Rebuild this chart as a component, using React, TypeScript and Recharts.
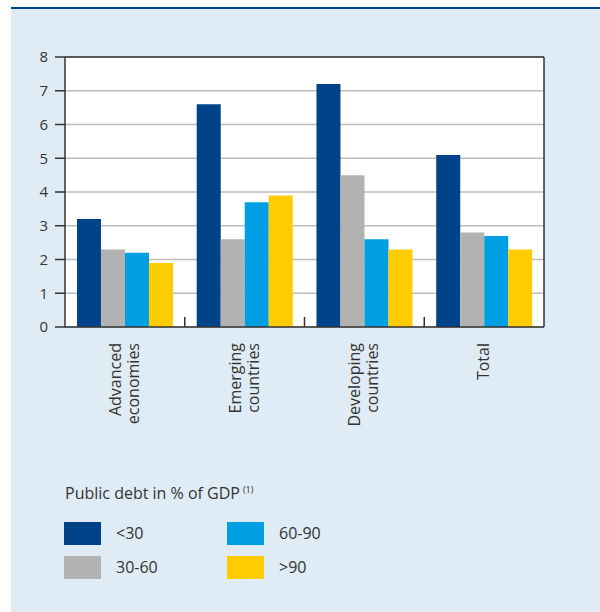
import { BarChart, Bar, XAxis, YAxis, CartesianGrid, ReferenceLine } from "recharts";

const categories = ["Advanced\neconomies", "Emerging\ncountries", "Developing\ncountries", "Total"];
const lt30 = [3.2, 6.6, 7.2, 5.1];
const d30to60 = [2.3, 2.6, 4.5, 2.8];
const d60to90 = [2.2, 3.7, 2.6, 2.7];
const gt90 = [1.9, 3.9, 2.3, 2.3];
const yTicks = [0, 1, 2, 3, 4, 5, 6, 7, 8];

const series = [
  { key: "lt30", label: "<30", color: "#004388" },
  { key: "d30to60", label: "30-60", color: "#b2b2b2" },
  { key: "d60to90", label: "60-90", color: "#009fe3" },
  { key: "gt90", label: ">90", color: "#ffcc00" },
];

const data = categories.map((name, i) => ({
  name,
  lt30: lt30[i],
  d30to60: d30to60[i],
  d60to90: d60to90[i],
  gt90: gt90[i],
}));

const FONT = '"Open Sans", "Noto Sans", sans-serif';
const TEXT = "#333";
// separator marks are ~10px tall, plot is 270px for 8 units
const SEP_H = (10 * 8) / 270;

function CatTick(props: any) {
  const { x, y, payload } = props;
  const lines = String(payload.value).split("\n");
  const first = lines.length === 1 ? 5 : -4;
  return (
    <g transform={`translate(${x},${y}) rotate(-90)`}>
      <text textAnchor="end" fill={TEXT} fontSize={16} fontFamily={FONT}>
        {lines.map((l, i) => (
          <tspan key={i} x={0} y={first + i * 18}>
            {l}
          </tspan>
        ))}
      </text>
    </g>
  );
}

export default function App() {
  const axisStroke = { stroke: "#333", strokeWidth: 1.5 };
  const tickStyle = { fill: TEXT, fontSize: 15, fontFamily: FONT };
  return (
    <div style={{ position: "relative", width: 600, height: 612, background: "#fff", fontFamily: FONT, color: TEXT }}>
      <style>{`body{margin:0}`}</style>
      <div
        style={{
          position: "absolute",
          left: 11,
          top: 7,
          right: 0,
          bottom: 0,
          background: "#dfecf5",
          borderTop: "2px solid #004388",
        }}
      />
      <div style={{ position: "absolute", left: 0, top: 0 }}>
        <BarChart
          width={600}
          height={612}
          data={data}
          margin={{ top: 57, right: 0, bottom: 185, left: 0 }}
          barGap={0}
          barCategoryGap="10%"
        >
          <CartesianGrid yAxisId="left" vertical={false} fill="#fff" fillOpacity={1} stroke="#bdbdbd" strokeWidth={1.3} />
          <XAxis
            dataKey="name"
            height={100}
            interval={0}
            axisLine={axisStroke}
            tickLine={false}
            tickSize={0}
            tickMargin={16}
            tick={<CatTick />}
          />
          <YAxis
            yAxisId="left"
            width={65}
            domain={[0, 8]}
            ticks={yTicks}
            interval={0}
            tickSize={10}
            tickMargin={7}
            axisLine={axisStroke}
            tickLine={axisStroke}
            tick={tickStyle}
          />
          <YAxis
            yAxisId="right"
            orientation="right"
            width={56}
            domain={[0, 8]}
            ticks={yTicks}
            interval={0}
            tickSize={12}
            tickMargin={6}
            axisLine={axisStroke}
            tickLine={axisStroke}
            tick={tickStyle}
          />
          {series.map((s) => (
            <Bar key={s.key} yAxisId="left" dataKey={s.key} fill={s.color} isAnimationActive={false} />
          ))}
          <ReferenceLine yAxisId="left" y={8} stroke="#333" strokeWidth={1.5} />
          {categories.slice(1).map((c) => (
            <ReferenceLine
              key={c}
              yAxisId="left"
              position="start"
              segment={[
                { x: c, y: 0 },
                { x: c, y: SEP_H },
              ]}
              stroke="#333"
              strokeWidth={1.5}
            />
          ))}
        </BarChart>
      </div>
      <div style={{ position: "absolute", left: 65, top: 480, fontSize: 16, lineHeight: "20px", whiteSpace: "nowrap" }}>
        Public debt in % of GDP<sup style={{ fontSize: 9, marginLeft: 3 }}>(1)</sup>
      </div>
      {series.map((s, i) => {
        const col = Math.floor(i / 2);
        const row = i % 2;
        const left = 64 + col * 163;
        const top = 522 + row * 34;
        return (
          <div key={s.key}>
            <div style={{ position: "absolute", left, top, width: 37, height: 23, background: s.color }} />
            <div
              style={{
                position: "absolute",
                left: left + 52,
                top,
                height: 23,
                lineHeight: "23px",
                fontSize: 16,
                whiteSpace: "nowrap",
              }}
            >
              {s.label}
            </div>
          </div>
        );
      })}
    </div>
  );
}
